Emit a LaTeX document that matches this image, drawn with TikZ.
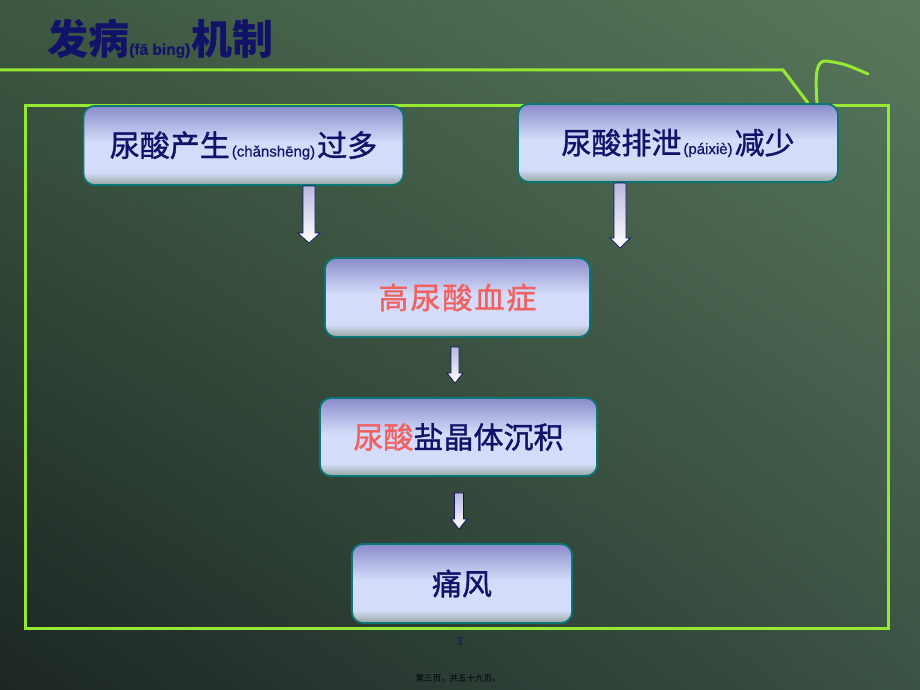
\documentclass[tikz,border=0pt]{standalone}
\usepackage{fontspec}
\setmainfont{Noto Sans CJK SC}
\newfontfamily\boxfont{Noto Sans CJK SC}[FakeBold=1.2]
\newfontfamily\pyfont{Liberation Sans}[FakeBold=0.6]
\usetikzlibrary{calc,shadings}
\definecolor{limeline}{RGB}{150,232,50}
\definecolor{navytxt}{RGB}{18,18,105}
\definecolor{redtxt}{RGB}{240,98,98}
\definecolor{tealedge}{RGB}{10,118,118}
\definecolor{bxtop}{RGB}{138,140,202}
\definecolor{bxlight}{RGB}{212,220,250}
\definecolor{bxbot}{RGB}{150,165,160}
\definecolor{bgul}{RGB}{60,88,66}
\definecolor{bgur}{RGB}{88,120,92}
\definecolor{bgll}{RGB}{28,38,34}
\definecolor{bglr}{RGB}{58,82,68}
\pgfdeclareverticalshading{boxshade}{100bp}{color(0bp)=(bxbot); color(25bp)=(bxbot); color(33bp)=(bxlight); color(52bp)=(bxlight); color(75bp)=(bxtop); color(100bp)=(bxtop)}
\tikzset{
  frameline/.style={draw=limeline, line width=3pt},
  flowbox/.style={shading=boxshade, draw=tealedge, line width=1.8pt, rounded corners=11pt,
     inner sep=0pt, font=\boxfont\fontsize{30}{30}\selectfont, text=navytxt},
  blockarrow/.style={top color=bxtop!60!white, bottom color=white, draw=navytxt, line width=0.7pt}
}
\newcommand{\pyin}[1]{\kern2pt{\pyfont\fontsize{15}{15}\selectfont #1}\kern2pt}
\newcommand{\ls}{\kern2pt}
\newcommand{\barrow}[5]{% x, ytop, ytip, half shaft, half head
  \path[blockarrow] (#1-#4,#2) -- (#1+#4,#2) -- (#1+#4,#3-10) -- (#1+#5,#3-10) -- (#1,#3)
     -- (#1-#5,#3-10) -- (#1-#4,#3-10) -- cycle;}
\begin{document}
\begin{tikzpicture}[x=1pt,y=-1pt]
\useasboundingbox (0,0) rectangle (920,690);
\shade[upper left=bgul, upper right=bgur, lower left=bgll, lower right=bglr] (0,0) rectangle (920,690);
% title
\node[anchor=west, inner sep=0pt, text=navytxt, font=\bfseries\fontsize{41}{41}\selectfont] (title) at (47,39)
  {发病{\pyfont\bfseries\fontsize{15.5}{15.5}\selectfont (fā bing)}\kern1pt 机制};
% green lines
\draw[frameline, line join=miter] (0,70) -- (783,70) -- (808,103);
\draw[frameline, line cap=round] (817,104) .. controls (815,72) and (816,60) .. (827,61) .. controls (845,64) .. (868,74);
\draw[frameline] (25,106) rectangle (888,628);
% boxes
\node[flowbox, minimum width=320pt, minimum height=79pt] (b1) at (243.5,145.5) {尿酸产生\pyin{(chǎnshēng)}过多};
\node[flowbox, minimum width=320pt, minimum height=78pt] (b2) at (678,143) {尿酸排泄\pyin{(páixiè)}减少};
\node[flowbox, minimum width=265pt, minimum height=79pt, text=redtxt] (b3) at (457.5,297.5) {高\ls 尿\ls 酸\ls 血\ls 症};
\node[flowbox, minimum width=277pt, minimum height=78pt] (b4) at (458.5,437) {\textcolor{redtxt}{尿酸}盐晶体沉积};
\node[flowbox, minimum width=220pt, minimum height=79pt] (b5) at (462,583.5) {痛风};
% arrows
\barrow{309}{186}{243}{6}{11}
\barrow{620}{183}{248}{6}{10}
\barrow{455}{347}{383}{4}{8}
\barrow{459}{493}{529}{4.5}{8}
% page texts
\node[text=navytxt, font=\fontsize{11}{11}\selectfont, inner sep=0pt] (pg) at (460,642) {3};
\node[text=black, font=\fontsize{8.5}{8.5}\selectfont, inner sep=0pt] (foot) at (458,678) {第三页，共五十九页。};
\end{tikzpicture}
\end{document}
